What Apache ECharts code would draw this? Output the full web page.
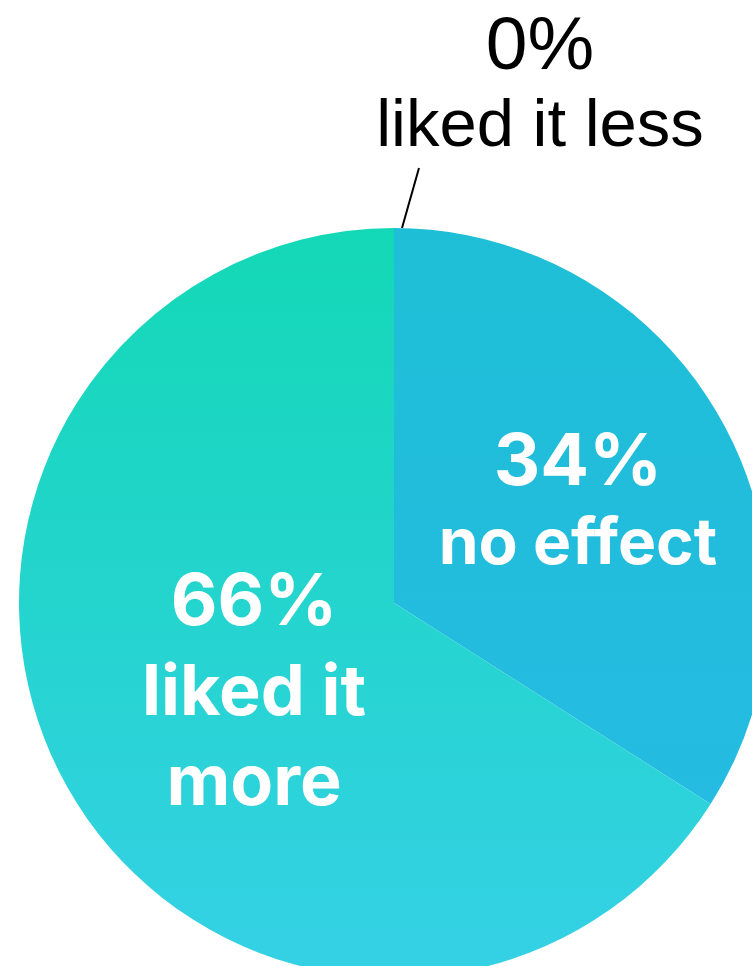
<!DOCTYPE html>
<html><head><meta charset="utf-8">
<script src="https://cdn.jsdelivr.net/npm/echarts@6/dist/echarts.min.js"></script>
<style>html,body{margin:0;padding:0;background:#fff;overflow:hidden}#c{width:752px;height:966px}</style>
</head><body><div id="c"></div>
<script>
// Data
const categories = ['liked it less', 'no effect', 'liked it\nmore'];
const values = [0, 34, 66];
// Styles
const topColors = ['#1ebfd6', '#1ebfd6', '#13d8b6'];
const bottomColors = ['#25bbe2', '#25bbe2', '#35d1e6'];
const labelShift = [[0, 0], [17, -7], [27, -1]];

const chart = echarts.init(document.getElementById('c'), null, { renderer: 'canvas' });

function grad(i) {
  return new echarts.graphic.LinearGradient(0, 0, 0, 1, [
    { offset: 0, color: topColors[i] },
    { offset: 1, color: bottomColors[i] }
  ]);
}

const data = categories.map((name, i) => {
  const item = { name: name, value: values[i], itemStyle: { color: grad(i) } };
  if (i === 0) {
    item.label = { position: 'outside', color: '#000' };
    item.labelLine = { show: true, length: 60, length2: 0, lineStyle: { color: '#000', width: 2 } };
  }
  return item;
});

chart.setOption({
  animation: false,
  backgroundColor: '#ffffff',
  series: [{
    type: 'pie',
    center: [394, 603],
    radius: [0, 375],
    startAngle: 90,
    clockwise: true,
    avoidLabelOverlap: false,
    silent: true,
    data: data,
    label: {
      show: true,
      position: 'inside',
      fontFamily: 'Inter',
      formatter: function (p) {
        const lines = p.name.split('\n');
        if (p.dataIndex === 0) {
          return '{v|' + p.value + '%}\n' + lines.map(l => '{n|' + l + '}').join('\n');
        }
        const a = p.dataIndex === 1 ? 'a' : 'c';
        const b = p.dataIndex === 1 ? 'b' : 'd';
        return '{' + a + '|' + p.value + '%}\n' + lines.map(l => '{' + b + '|' + l + '}').join('\n');
      },
      rich: {
        v: { fontFamily: 'Liberation Sans', fontSize: 75, lineHeight: 80, color: '#000', align: 'center' },
        n: { fontFamily: 'Liberation Sans', fontSize: 67, lineHeight: 80, color: '#000', align: 'center' },
        a: { fontFamily: 'Inter', fontSize: 72, fontWeight: 'bold', lineHeight: 82, color: '#fff', align: 'center' },
        b: { fontFamily: 'Inter', fontSize: 64, fontWeight: 'bold', lineHeight: 82, color: '#fff', align: 'center' },
        c: { fontFamily: 'Inter', fontSize: 72, fontWeight: 'bold', lineHeight: 90, color: '#fff', align: 'center' },
        d: { fontFamily: 'Inter', fontSize: 70, fontWeight: 'bold', lineHeight: 90, color: '#fff', align: 'center' }
      }
    },
    labelLine: { show: false },
    labelLayout: function (p) {
      if (p.dataIndex === 0) {
        const pts = p.labelLinePoints;
        const s = pts && pts[0] ? pts[0] : [394, 228];
        return {
          x: s[0] + 146, y: s[1] - 140,
          align: 'center', verticalAlign: 'middle',
          labelLinePoints: [[s[0] + 8, s[1]], [s[0] + 25, s[1] - 60], [s[0] + 25, s[1] - 60]]
        };
      }
      const sh = labelShift[p.dataIndex];
      return { dx: sh[0], dy: sh[1] };
    }
  }]
});
</script>
</body></html>
